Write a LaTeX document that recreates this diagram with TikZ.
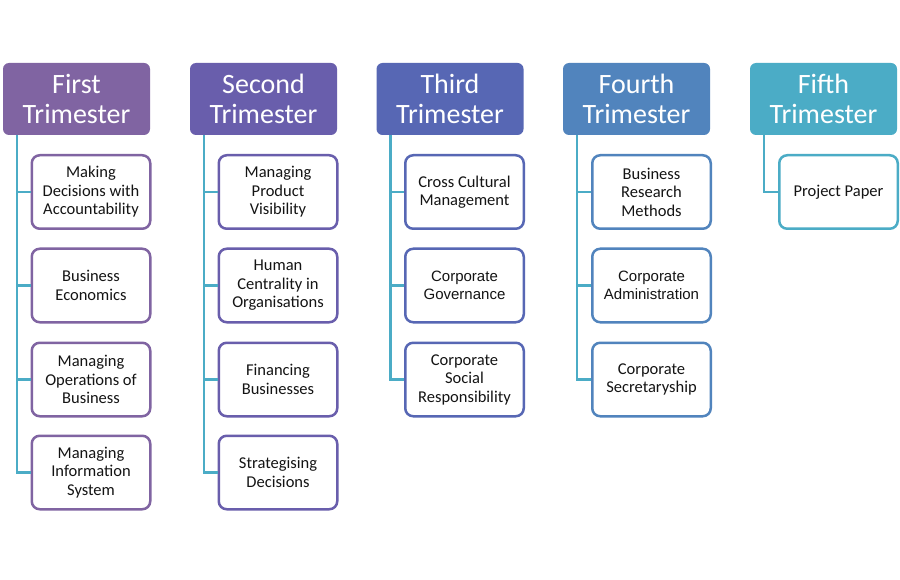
\documentclass[tikz,border=0pt]{standalone}
\usepackage{fontspec}
\setmainfont{Carlito}
\newfontfamily\arialf{Liberation Sans}
\definecolor{c1}{RGB}{128,100,162}
\definecolor{c2}{RGB}{105,94,172}
\definecolor{c3}{RGB}{87,103,180}
\definecolor{c4}{RGB}{81,132,189}
\definecolor{c5}{RGB}{75,172,198}
\definecolor{conn}{RGB}{75,172,198}
\definecolor{txt}{RGB}{20,20,20}
\begin{document}
\begin{tikzpicture}[x=1pt,y=-1pt,
 head/.style={fill=#1, draw=none, rounded corners=6pt, minimum width=147pt, minimum height=72pt,
   text=white, font=\fontsize{28}{30}\selectfont, align=center, inner sep=0pt},
 item/.style={draw=#1, line width=2.5pt, fill=white, rounded corners=8pt, minimum width=118.5pt,
   minimum height=73.5pt, font=\fontsize{16.5}{18.5}\selectfont, align=center, inner sep=0pt, text=txt},
 link/.style={draw=conn, line width=2.5pt}]
\useasboundingbox (0,0) rectangle (900,580);
\fill[white] (0,0) rectangle (900,580);

% headers
\node[head=c1] (h1) at (76.5,99) {First\\Trimester};
\node[head=c2] (h2) at (263.5,99) {Second\\Trimester};
\node[head=c3] (h3) at (450,99) {Third\\Trimester};
\node[head=c4] (h4) at (636.5,99) {Fourth\\Trimester};
\node[head=c5] (h5) at (823.5,99) {Fifth\\Trimester};

\foreach \i in {1,...,5} {
  \coordinate (t\i) at ([xshift=14pt]h\i.south west);
}

% column 1
\node[item=c1] (a1) at (91,192) {Making\\Decisions with\\Accountability};
\node[item=c1] (a2) at (91,285.5) {Business\\Economics};
\node[item=c1] (a3) at (91,379.5) {Managing\\Operations of\\Business};
\node[item=c1] (a4) at (91,472.5) {Managing\\Information\\System};

% column 2
\node[item=c2] (b1) at (278,192) {Managing\\Product\\Visibility};
\node[item=c2] (b2) at (278,285.5) {Human\\Centrality in\\Organisations};
\node[item=c2] (b3) at (278,379.5) {Financing\\Businesses};
\node[item=c2] (b4) at (278,472.5) {Strategising\\Decisions};

% column 3
\node[item=c3] (c1n) at (464.5,192) {Cross Cultural\\Management};
\node[item=c3, font=\arialf\fontsize{15}{18.5}\selectfont] (c2n) at (464.5,285.5) {Corporate\\Governance};
\node[item=c3] (c3n) at (464.5,379.5) {Corporate\\Social\\Responsibility};

% column 4
\node[item=c4] (d1) at (651.5,192) {Business\\Research\\Methods};
\node[item=c4, font=\arialf\fontsize{15}{18.5}\selectfont] (d2) at (651.5,285.5) {Corporate\\Administration};
\node[item=c4] (d3) at (651.5,379.5) {Corporate\\Secretaryship};

% column 5
\node[item=c5] (e1) at (838.5,192) {Project Paper};

% connectors
\begin{scope}[on background layer/.style={}]
\foreach \n in {a1,a2,a3,a4} \draw[link] (t1) |- (\n.west);
\foreach \n in {b1,b2,b3,b4} \draw[link] (t2) |- (\n.west);
\foreach \n in {c1n,c2n,c3n} \draw[link] (t3) |- (\n.west);
\foreach \n in {d1,d2,d3} \draw[link] (t4) |- (\n.west);
\draw[link] (t5) |- (e1.west);
\end{scope}
\end{tikzpicture}
\end{document}
